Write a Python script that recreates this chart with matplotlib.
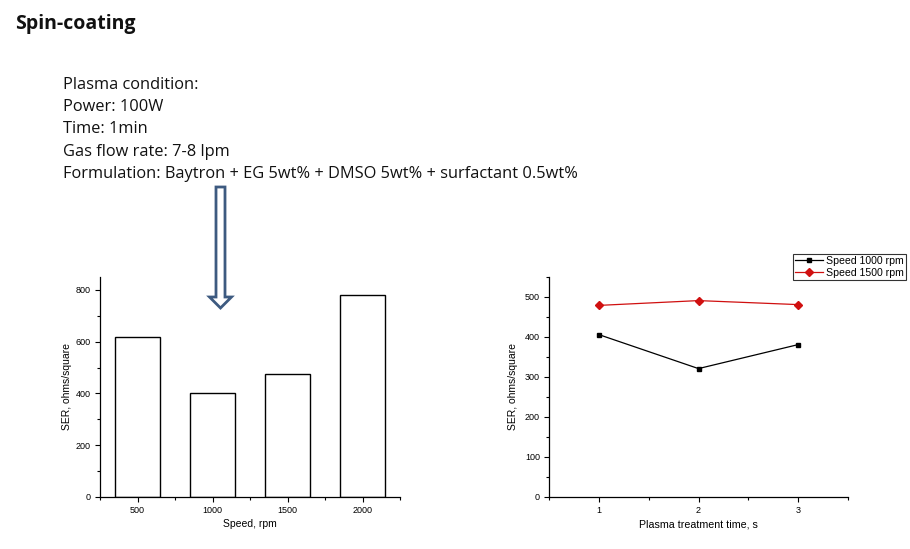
import matplotlib
matplotlib.use("Agg")
import matplotlib.pyplot as plt
from matplotlib.patches import FancyArrow
from matplotlib.ticker import MultipleLocator, FixedLocator

# ---- data ----
speeds = [500, 1000, 1500, 2000]
ser_speed = [620, 403, 476, 780]

times = [1, 2, 3]
ser_1000 = [406, 321, 381]
ser_1500 = [479, 491, 481]

title = "Spin-coating"
info_lines = [
    "Plasma condition:",
    "Power: 100W",
    "Time: 1min",
    "Gas flow rate: 7-8 lpm",
    "Formulation: Baytron + EG 5wt% + DMSO 5wt% + surfactant 0.5wt%",
]

W, H = 910, 549
fig = plt.figure(figsize=(W / 100, H / 100), dpi=100)
fig.patch.set_facecolor("white")

def fx(px):
    return px / W

def fy(py):
    return 1 - py / H

# title
fig.text(fx(15), fy(24), title, fontsize=14, fontweight="bold",
         family=["Open Sans", "DejaVu Sans"], va="center", ha="left", color="#111111")

# info block
for i, line in enumerate(info_lines):
    fig.text(fx(63), fy(85 + i * 22.2), line, fontsize=11.8,
             family=["Open Sans", "DejaVu Sans"], va="center", ha="left", color="#111111")

# hollow arrow
arrow = FancyArrow(fx(220.5), fy(187), 0, fy(308) - fy(187), width=fx(9),
                   head_width=fx(22), head_length=(fy(297) - fy(308)),
                   length_includes_head=True, transform=fig.transFigure,
                   facecolor="white", edgecolor="#3d5a80", linewidth=2.0)
fig.add_artist(arrow)

lab_font = dict(family=["Liberation Sans", "DejaVu Sans"])

def style_axes(ax):
    for s in ("top", "right"):
        ax.spines[s].set_visible(False)
    for s in ("left", "bottom"):
        ax.spines[s].set_linewidth(0.9)
    ax.tick_params(which="major", direction="out", length=3.5, width=0.8,
                   labelsize=6.5, pad=3)
    ax.tick_params(which="minor", direction="out", length=2, width=0.8)
    for lab in ax.get_xticklabels() + ax.get_yticklabels():
        lab.set_family(["Liberation Sans", "DejaVu Sans"])

# ---- left: bar chart ----
ax1 = fig.add_axes([fx(100), fy(497), fx(300), (fy(277) - fy(497))])
ax1.bar(speeds, ser_speed, width=300, facecolor="white", edgecolor="black", linewidth=1.0)
ax1.set_xlim(250, 2250)
ax1.set_ylim(0, 850)
ax1.set_xticks(speeds)
ax1.xaxis.set_minor_locator(FixedLocator([250, 750, 1250, 1750, 2250]))
ax1.set_yticks([0, 200, 400, 600, 800])
ax1.yaxis.set_minor_locator(MultipleLocator(100))
ax1.set_xlabel("Speed, rpm", fontsize=7.5, labelpad=3, **lab_font)
ax1.set_ylabel("SER, ohms/square", fontsize=7.5, labelpad=3, **lab_font)
style_axes(ax1)

# ---- right: line chart ----
ax2 = fig.add_axes([fx(549), fy(497), fx(299), (fy(277) - fy(497))])
ax2.plot(times, ser_1000, color="black", marker="s", markersize=3.2, linewidth=0.9,
         label="Speed 1000 rpm")
ax2.plot(times, ser_1500, color="#d01010", marker="D", markersize=3.6, linewidth=0.9,
         label="Speed 1500 rpm")
ax2.set_xlim(0.5, 3.5)
ax2.set_ylim(0, 550)
ax2.set_xticks(times)
ax2.xaxis.set_minor_locator(FixedLocator([0.5, 1.5, 2.5, 3.5]))
ax2.set_yticks([0, 100, 200, 300, 400, 500])
ax2.yaxis.set_minor_locator(MultipleLocator(50))
ax2.set_xlabel("Plasma treatment time, s", fontsize=7.7, labelpad=3, **lab_font)
ax2.set_ylabel("SER, ohms/square", fontsize=7.5, labelpad=5, **lab_font)
style_axes(ax2)

leg = fig.legend(handles=ax2.get_lines(), loc="upper right",
                 bbox_to_anchor=(fx(906), fy(254)), bbox_transform=fig.transFigure,
                 frameon=True, fancybox=False, borderpad=0.2,
                 handlelength=2.6, handletextpad=0.3, labelspacing=0.15,
                 borderaxespad=0, prop=dict(family=["Liberation Sans", "DejaVu Sans"], size=7.6))
leg.get_frame().set_edgecolor("black")
leg.get_frame().set_linewidth(0.8)

fig.savefig("out.png", dpi=100)
